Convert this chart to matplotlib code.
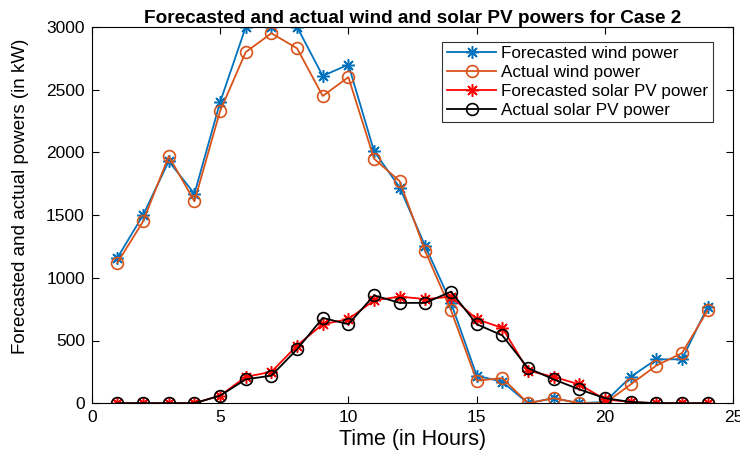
import matplotlib.pyplot as plt
import numpy as np

plt.rcParams['font.family'] = ['Liberation Sans', 'DejaVu Sans']

hours = np.arange(1, 25)
wind_fc = [1160, 1500, 1930, 1670, 2400, 3000, 3000, 3000, 2610, 2700, 2010, 1720,
           1250, 800, 220, 170, 0, 40, 0, 10, 210, 350, 350, 770]
wind_act = [1120, 1450, 1970, 1610, 2330, 2800, 2950, 2830, 2450, 2600, 1950, 1770,
            1210, 740, 180, 200, 0, 40, 0, 0, 150, 300, 400, 740]
pv_fc = [0, 0, 0, 0, 60, 210, 250, 460, 630, 670, 820, 850,
         830, 850, 670, 600, 260, 210, 150, 30, 10, 0, 0, 0]
pv_act = [0, 0, 0, 0, 60, 190, 220, 430, 680, 630, 860, 800,
          800, 890, 630, 540, 280, 190, 110, 40, 10, 0, 0, 0]

star = (8, 2, 0)  # matlab-like asterisk

fig = plt.figure(figsize=(7.4, 4.5), dpi=100)
ax = fig.add_axes([0.124, 0.104, 0.867, 0.836])

ax.plot(hours, wind_fc, '-', marker=star, color='#0072BD', ms=9, mew=1.1, lw=1.3, label='Forecasted wind power')
ax.plot(hours, wind_act, '-o', color='#D95319', ms=8.5, mfc='none', mew=1.2, lw=1.3, label='Actual wind power')
ax.plot(hours, pv_fc, '-', marker=star, color='red', ms=9, mew=1.1, lw=1.3, label='Forecasted solar PV power')
ax.plot(hours, pv_act, '-o', color='black', ms=8.5, mfc='none', mew=1.2, lw=1.3, label='Actual solar PV power')

ax.set_xlim(0, 25)
ax.set_ylim(0, 3000)
ax.set_xticks([0, 5, 10, 15, 20, 25])
ax.set_yticks([0, 500, 1000, 1500, 2000, 2500, 3000])
ax.tick_params(direction='in', top=True, right=True, labelsize=12.5, length=5, pad=5)
for s in ax.spines.values():
    s.set_linewidth(0.8)

ax.set_xlabel('Time (in Hours)', fontsize=15.5, labelpad=3)
ax.set_ylabel('Forecasted and actual powers (in kW)', fontsize=13.5)
ax.yaxis.set_label_coords(-0.098, 0.55)
ax.set_title('Forecasted and actual wind and solar PV powers for Case 2', fontsize=13.7,
             fontweight='bold', pad=3)

leg = ax.legend(loc='upper right', bbox_to_anchor=(0.968, 0.96), fontsize=12.3, fancybox=False,
                edgecolor='#333333', framealpha=1, borderpad=0.25, labelspacing=0.22,
                handlelength=2.9, handletextpad=0.3, borderaxespad=0)
leg.get_frame().set_linewidth(0.8)

fig.savefig('out.png', dpi=100)
